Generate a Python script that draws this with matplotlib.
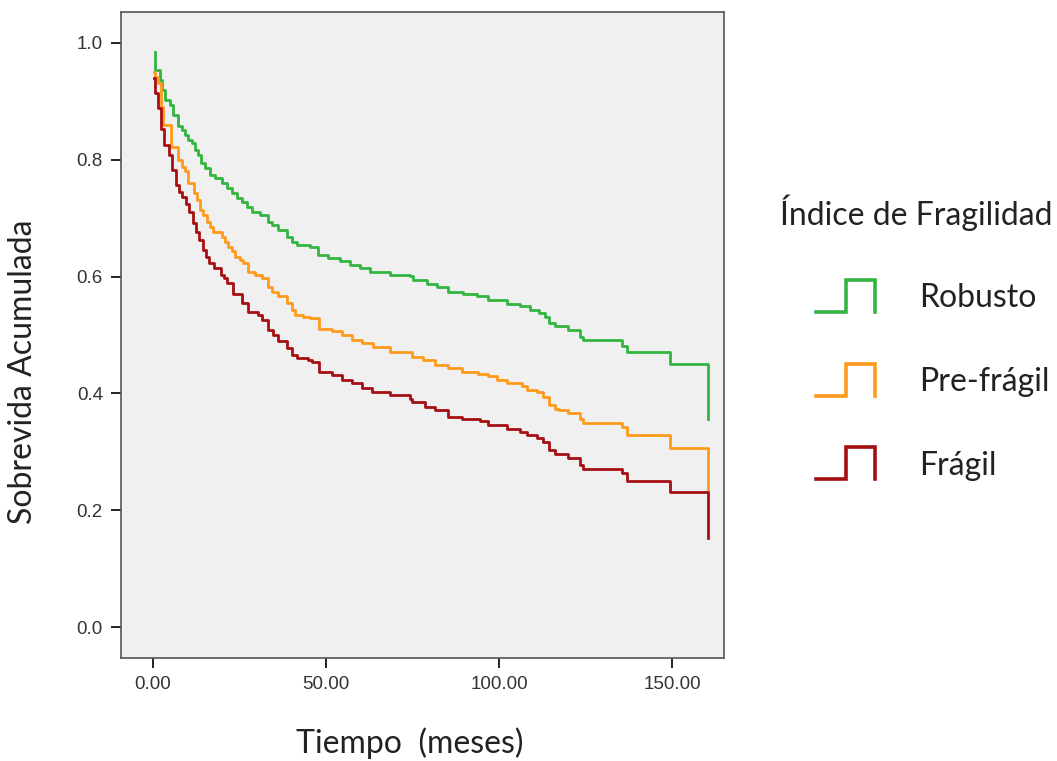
import numpy as np
import matplotlib
matplotlib.use("Agg")
import matplotlib.pyplot as plt

# tiempos de evento (meses) y sobrevida acumulada tras cada evento
robusto_t = [0.5, 0.6, 2.0, 2.5, 3.5, 4.9, 5.9, 7.1, 8.3, 9.2,
             10.2, 11.2, 12.1, 13.1, 14.0, 15.0, 16.5, 17.9, 19.8, 21.3,
             22.8, 24.3, 25.7, 27.2, 28.6, 30.9, 33.3, 34.3, 36.2, 38.6,
             40.1, 41.5, 45.4, 47.8, 50.7, 54.0, 56.9, 59.8, 62.7, 68.5,
             74.3, 75.2, 79.1, 82.0, 85.3, 89.7, 93.6, 96.9, 102.2, 106.1,
             109.0, 111.4, 113.3, 114.3, 116.2, 120.0, 123.4, 124.1, 135.5, 136.9,
             149.4, 160.5]
robusto_s = [0.984, 0.954, 0.937, 0.920, 0.902, 0.894, 0.877, 0.857, 0.851, 0.842,
             0.834, 0.829, 0.817, 0.808, 0.795, 0.786, 0.774, 0.769, 0.760, 0.752,
             0.743, 0.735, 0.728, 0.719, 0.711, 0.705, 0.694, 0.688, 0.680, 0.668,
             0.660, 0.654, 0.651, 0.637, 0.631, 0.626, 0.620, 0.614, 0.608, 0.603,
             0.601, 0.594, 0.587, 0.582, 0.574, 0.570, 0.567, 0.560, 0.553, 0.549,
             0.543, 0.537, 0.531, 0.520, 0.515, 0.509, 0.497, 0.491, 0.481, 0.471,
             0.450, 0.357]

prefragil_t = [0.4, 0.6, 1.5, 2.2, 3.0, 5.2, 7.1, 8.3, 9.2, 10.2,
               11.7, 12.6, 13.6, 14.5, 15.5, 16.5, 17.4, 19.8, 20.8, 21.8,
               22.7, 23.7, 25.1, 26.1, 27.3, 29.5, 31.4, 33.3, 34.3, 36.2,
               38.6, 40.1, 41.0, 43.4, 45.5, 48.0, 51.6, 54.5, 57.4, 60.3,
               63.5, 68.5, 74.8, 78.1, 81.5, 85.3, 89.2, 94.0, 96.9, 99.3,
               102.2, 106.6, 108.0, 110.9, 112.8, 114.3, 116.2, 117.2, 120.0, 123.4,
               124.1, 135.5, 136.9, 149.4, 160.5]
prefragil_s = [0.951, 0.942, 0.931, 0.891, 0.860, 0.822, 0.800, 0.788, 0.780, 0.760,
               0.743, 0.731, 0.714, 0.705, 0.694, 0.685, 0.677, 0.668, 0.660, 0.651,
               0.643, 0.634, 0.628, 0.623, 0.608, 0.603, 0.597, 0.583, 0.574, 0.566,
               0.554, 0.543, 0.534, 0.531, 0.529, 0.511, 0.506, 0.500, 0.491, 0.486,
               0.480, 0.471, 0.463, 0.457, 0.449, 0.443, 0.437, 0.434, 0.429, 0.423,
               0.418, 0.412, 0.406, 0.403, 0.394, 0.380, 0.374, 0.372, 0.366, 0.357,
               0.349, 0.343, 0.329, 0.307, 0.235]

fragil_t = [0.4, 0.6, 1.5, 2.2, 3.2, 4.6, 5.6, 6.6, 7.6, 8.5,
            9.5, 10.5, 11.5, 12.4, 13.4, 14.3, 15.3, 16.3, 17.7, 19.6,
            20.5, 21.3, 23.2, 25.6, 27.5, 30.4, 31.4, 33.3, 34.8, 36.2,
            38.6, 40.1, 41.5, 44.9, 45.8, 48.0, 51.6, 54.5, 57.4, 60.3,
            63.2, 68.5, 74.3, 74.8, 78.6, 81.5, 85.3, 89.2, 94.5, 96.9,
            102.2, 106.1, 108.0, 110.9, 112.8, 114.3, 116.2, 120.0, 123.4, 124.1,
            135.5, 136.9, 149.4, 160.5]
fragil_s = [0.940, 0.914, 0.888, 0.852, 0.825, 0.808, 0.783, 0.757, 0.745, 0.737,
            0.725, 0.711, 0.691, 0.677, 0.663, 0.646, 0.634, 0.623, 0.614, 0.603,
            0.597, 0.589, 0.571, 0.554, 0.540, 0.534, 0.526, 0.509, 0.500, 0.489,
            0.477, 0.466, 0.460, 0.457, 0.454, 0.437, 0.432, 0.423, 0.417, 0.409,
            0.403, 0.397, 0.390, 0.386, 0.377, 0.371, 0.360, 0.356, 0.353, 0.346,
            0.339, 0.334, 0.329, 0.323, 0.317, 0.303, 0.297, 0.289, 0.277, 0.270,
            0.263, 0.250, 0.231, 0.152]

grupos = ["Robusto", "Pre-frágil", "Frágil"]
colores = ["#33B540", "#FF9A1A", "#A60F12"]

x_ticks = [0, 50, 100, 150]
y_ticks = [0.0, 0.2, 0.4, 0.6, 0.8, 1.0]

fig = plt.figure(figsize=(10.57, 7.61), dpi=100)
ax = fig.add_axes([0.1145, 0.1353, 0.5705, 0.849])
ax.set_facecolor("#F0F0F0")

series = [(robusto_t, robusto_s), (prefragil_t, prefragil_s), (fragil_t, fragil_s)]
for (t, s), nombre, col in zip(series, grupos, colores):
    ax.step(t, s, where="post", color=col, lw=2.0, label=nombre)

ax.set_xlim(-9.25, 165.0)
ax.set_ylim(-0.053, 1.053)
ax.set_xticks(x_ticks)
ax.set_xticklabels([f"{v:.2f}" for v in x_ticks])
ax.set_yticks(y_ticks)
ax.set_yticklabels([f"{v:.1f}" for v in y_ticks])

tick_font = ["Liberation Sans Narrow", "Liberation Sans"]
for lab in ax.get_xticklabels() + ax.get_yticklabels():
    lab.set_family(tick_font)
    lab.set_fontsize(13.5)
    lab.set_color("#333333")
ax.tick_params(direction="out", length=7, width=1.4, color="#222222", pad=6)
for sp in ax.spines.values():
    sp.set_color("#555555")
    sp.set_linewidth(1.2)

ax.set_xlabel("Tiempo  (meses)", fontsize=23, family="Lato", color="#222222")
ax.set_ylabel("Sobrevida Acumulada", fontsize=23, family="Lato", color="#222222")
ax.xaxis.set_label_coords(0.479, -0.108)
ax.yaxis.set_label_coords(-0.138, 0.443)

# leyenda con icono escalonado, al estilo SPSS
fig.text(0.738, 0.72, "Índice de Fragilidad", fontsize=23, family="Lato",
         color="#222222", va="center", ha="left")
lax = fig.add_axes([0.77, 0.3, 0.06, 0.35])
lax.set_xlim(0, 1)
lax.set_ylim(0, 1)
lax.axis("off")
icon_x = [0.03, 0.5, 0.5, 0.97, 0.97]
icon_dy = [0.0, 0.0, 0.12, 0.12, 0.0]
for i, (nombre, col) in enumerate(zip(grupos, colores)):
    base = 0.9 - i * 0.315 - 0.07
    lax.plot(icon_x, [base + d for d in icon_dy], color=col, lw=2.6,
             solid_joinstyle="miter")
    fig.text(0.870, 0.3 + 0.35 * (base + 0.05), nombre, fontsize=23, family="Lato",
             color="#222222", va="center", ha="left")

fig.savefig("out.png", dpi=100)
